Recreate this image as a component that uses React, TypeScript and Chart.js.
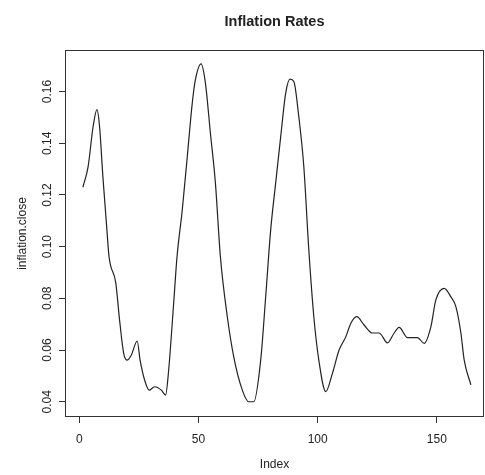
import React, { useEffect, useRef } from "react";
import { Chart, registerables } from "chart.js";

Chart.register(...registerables);

const CHART_TITLE = "Inflation Rates";
const X_LABEL = "Index";
const Y_LABEL = "inflation.close";

const INDEX = [
  1.5, 3.7, 5.8, 7.4, 8.5, 9.9, 11.3, 12.5, 15.3, 16.9, 18.6, 20.0, 21.8, 24.3,
  25.5, 27.4, 29.3, 31.6, 34.4, 36.2, 37.5, 39.6, 41.0, 43.2, 45.3, 47.4, 48.7,
  51.1, 52.9, 55.0, 57.1, 59.2, 62.1, 64.8, 68.4, 71.1, 73.2, 76.1, 78.2, 80.3,
  82.4, 84.5, 86.6, 88.4, 90.0, 92.1, 94.2, 96.3, 98.4, 100.5, 103.4, 106.2,
  109.0, 111.8, 113.9, 116.4, 119.5, 123.0, 125.8, 129.3, 132.1, 134.2, 137.7,
  141.9, 144.7, 147.5, 149.6, 153.1, 155.9, 158.0, 160.1, 161.5, 164.3,
];

const INFLATION_CLOSE = [
  0.123, 0.131, 0.1465, 0.153, 0.1465, 0.127, 0.11, 0.096, 0.086, 0.0716,
  0.0588, 0.0561, 0.058, 0.0635, 0.0561, 0.0484, 0.0445, 0.0458, 0.0445, 0.0426,
  0.0523, 0.0782, 0.0961, 0.1142, 0.1348, 0.1556, 0.1645, 0.1707, 0.1634, 0.144,
  0.1247, 0.0961, 0.0729, 0.0574, 0.0445, 0.04, 0.04, 0.056, 0.0806, 0.1065,
  0.1247, 0.1426, 0.1594, 0.1648, 0.1639, 0.1503, 0.131, 0.0987, 0.0729, 0.0561,
  0.0439, 0.051, 0.06, 0.0651, 0.0703, 0.0729, 0.0697, 0.0666, 0.0666, 0.0628,
  0.0666, 0.0688, 0.0648, 0.0648, 0.0626, 0.069, 0.0794, 0.0839, 0.0806, 0.0768,
  0.0666, 0.0561, 0.0465,
];

const X_TICKS = [0, 50, 100, 150];
const Y_TICKS = [0.04, 0.06, 0.08, 0.1, 0.12, 0.14, 0.16];

const X_MIN = -6;
const X_MAX = 169.8;
const Y_MIN = 0.0341;
const Y_MAX = 0.1761;

const FONT_FAMILY = "'Liberation Sans', Arial, Helvetica, sans-serif";
const INK = "#222222";

const boxPlugin = {
  id: "plotBox",
  afterDraw(chart: any) {
    const { ctx, chartArea } = chart;
    ctx.save();
    ctx.strokeStyle = "#333333";
    ctx.lineWidth = 1;
    ctx.strokeRect(
      Math.round(chartArea.left) + 0.5,
      Math.round(chartArea.top) + 0.5,
      Math.round(chartArea.right - chartArea.left) - 1,
      Math.round(chartArea.bottom - chartArea.top) - 1
    );
    ctx.restore();
  },
};

export default function App() {
  const canvasRef = useRef<HTMLCanvasElement | null>(null);

  useEffect(() => {
    if (!canvasRef.current) return;
    const data = INDEX.map((x, i) => ({ x, y: INFLATION_CLOSE[i] }));
    const chart = new Chart(canvasRef.current, {
      type: "line",
      data: {
        datasets: [
          {
            data,
            borderColor: INK,
            borderWidth: 1.2,
            pointRadius: 0,
            fill: false,
            cubicInterpolationMode: "monotone",
          },
        ],
      },
      options: {
        responsive: false,
        animation: false,
        events: [],
        layout: { padding: { left: 0, right: 1, top: 0, bottom: 0 } },
        plugins: {
          legend: { display: false },
          tooltip: { enabled: false },
          title: {
            display: true,
            text: CHART_TITLE,
            fullSize: false,
            color: INK,
            font: { family: FONT_FAMILY, size: 14.5, weight: "bold" },
            padding: { top: 13, bottom: 19.6 },
          },
        },
        scales: {
          x: {
            type: "linear",
            min: X_MIN,
            max: X_MAX,
            afterBuildTicks: (scale: any) => {
              scale.ticks = X_TICKS.map((v) => ({ value: v }));
            },
            afterFit: (scale: any) => {
              scale.height = 58;
            },
            border: { display: false },
            grid: {
              display: true,
              drawOnChartArea: false,
              drawTicks: true,
              tickLength: 6,
              color: "#333333",
            },
            ticks: {
              color: INK,
              padding: 9,
              maxRotation: 0,
              autoSkip: false,
              font: { family: FONT_FAMILY, size: 12 },
              callback: (v: any) => String(v),
            },
            title: {
              display: true,
              text: X_LABEL,
              color: INK,
              font: { family: FONT_FAMILY, size: 12 },
              padding: { top: 0, bottom: 3 },
            },
          },
          y: {
            type: "linear",
            min: Y_MIN,
            max: Y_MAX,
            afterBuildTicks: (scale: any) => {
              scale.ticks = Y_TICKS.map((v) => ({ value: v }));
            },
            afterFit: (scale: any) => {
              scale.width = 65;
            },
            border: { display: false },
            grid: {
              display: true,
              drawOnChartArea: false,
              drawTicks: true,
              tickLength: 6,
              color: "#333333",
            },
            ticks: {
              color: INK,
              padding: 0,
              minRotation: 90,
              maxRotation: 90,
              crossAlign: "center",
              autoSkip: false,
              font: { family: FONT_FAMILY, size: 12 },
              callback: (v: any) => Number(v).toFixed(2),
            },
            title: {
              display: true,
              text: Y_LABEL,
              color: INK,
              font: { family: FONT_FAMILY, size: 12 },
              padding: { top: 15, bottom: 0 },
            },
          },
        },
      },
      plugins: [boxPlugin],
    });
    return () => chart.destroy();
  }, []);

  return (
    <div
      style={{
        position: "fixed",
        left: 0,
        top: 0,
        width: 485,
        height: 475,
        background: "#ffffff",
      }}
    >
      <canvas ref={canvasRef} width={485} height={475} />
    </div>
  );
}
